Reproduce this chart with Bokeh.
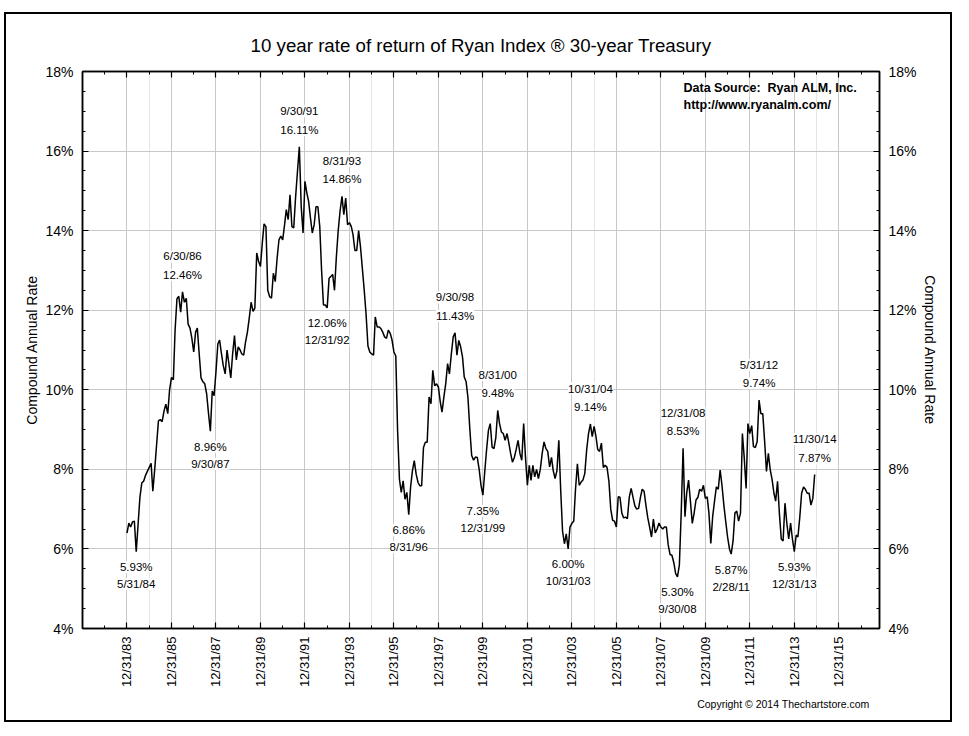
import datetime as dt
import math
from bokeh.plotting import figure
from bokeh.models import (Range1d, LinearAxis, FixedTicker, PrintfTickFormatter,
                          ColumnDataSource, LabelSet, Label, Title, Grid)
from bokeh.core.properties import value
from bokeh.embed import file_html
from bokeh.resources import INLINE

FONT = "Liberation Sans"

# ---- data: monthly 10-year compound annual rate (%), 12/31/83 .. 11/30/14 ----
series_start = "12/31/83"
rates = [
    6.40, 6.65, 6.55, 6.68, 6.70, 5.93, 6.60, 7.30, 7.66, 7.70,
    7.85, 7.95, 8.05, 8.15, 7.45, 8.00, 8.60, 9.22, 9.25, 9.20,
    9.47, 9.64, 9.40, 10.00, 10.31, 10.25, 11.49, 12.29, 12.35, 11.95,
    12.46, 12.20, 12.30, 11.65, 11.55, 11.30, 10.95, 11.45, 11.55, 10.90,
    10.30, 10.20, 10.15, 9.90, 9.40, 8.96, 9.97, 9.85, 10.45, 11.15,
    11.25, 10.90, 10.60, 10.40, 11.00, 10.65, 10.30, 10.90, 11.36, 10.75,
    11.08, 11.00, 10.90, 10.87, 11.20, 11.45, 11.80, 12.20, 11.97, 12.05,
    13.44, 13.23, 13.10, 13.70, 14.17, 14.10, 12.50, 12.34, 12.30, 12.93,
    12.72, 13.30, 13.77, 13.86, 13.77, 14.15, 14.53, 14.28, 14.90, 14.10,
    14.07, 14.85, 15.50, 16.11, 14.60, 13.94, 15.24, 14.95, 14.74, 14.32,
    13.94, 14.15, 14.60, 14.60, 14.10, 13.00, 12.13, 12.13, 12.06, 12.80,
    12.85, 12.90, 12.50, 13.35, 14.00, 14.50, 14.86, 14.40, 14.82, 14.15,
    14.20, 14.10, 13.90, 13.50, 13.50, 14.00, 13.60, 13.05, 12.50, 11.90,
    11.10, 10.95, 10.90, 10.87, 11.83, 11.58, 11.58, 11.54, 11.45, 11.33,
    11.29, 11.50, 11.42, 11.25, 10.95, 10.85, 9.00, 7.75, 7.42, 7.71,
    7.25, 7.42, 6.86, 7.55, 7.97, 8.22, 7.88, 7.67, 7.59, 7.59,
    8.55, 8.68, 8.68, 9.82, 9.65, 10.49, 10.10, 10.15, 10.07, 9.69,
    9.44, 9.82, 10.15, 10.66, 10.40, 10.90, 11.33, 11.43, 10.87, 11.24,
    11.08, 10.82, 10.32, 10.20, 9.80, 9.00, 8.35, 8.23, 8.31, 8.30,
    8.00, 7.60, 7.35, 7.95, 8.48, 8.98, 9.15, 8.56, 8.52, 8.80,
    9.48, 9.15, 8.94, 8.90, 8.73, 8.90, 8.68, 8.40, 8.18, 8.30,
    8.50, 8.73, 8.40, 8.23, 9.15, 8.30, 7.60, 8.10, 7.72, 8.10,
    7.81, 8.00, 7.77, 8.00, 8.40, 8.69, 8.52, 8.45, 8.06, 8.30,
    7.97, 7.77, 7.97, 8.73, 7.50, 6.45, 6.13, 6.38, 6.00, 6.55,
    6.64, 6.70, 7.50, 8.14, 7.60, 7.68, 7.73, 7.90, 8.50, 8.90,
    9.14, 8.82, 9.08, 8.82, 8.50, 8.45, 8.66, 8.05, 8.10, 8.05,
    7.70, 7.00, 6.72, 6.70, 6.55, 7.31, 7.30, 6.90, 6.78, 6.80,
    6.76, 7.30, 7.52, 7.30, 7.08, 7.00, 7.02, 7.30, 7.50, 7.45,
    7.10, 6.78, 6.55, 6.30, 6.75, 6.40, 6.50, 6.65, 6.55, 6.50,
    6.55, 6.55, 6.10, 5.86, 5.84, 5.66, 5.38, 5.30, 5.60, 6.90,
    8.53, 6.81, 7.40, 7.73, 7.20, 6.64, 6.90, 7.23, 7.30, 7.50,
    7.45, 7.60, 7.27, 7.31, 6.90, 6.14, 6.81, 7.20, 7.56, 7.50,
    7.98, 7.60, 7.10, 6.70, 6.30, 6.00, 5.87, 6.20, 6.90, 6.95,
    6.70, 6.90, 8.90, 8.30, 7.52, 9.15, 8.90, 9.10, 8.57, 8.55,
    8.70, 9.74, 9.40, 9.40, 8.70, 7.95, 8.40, 8.00, 7.75, 7.40,
    7.20, 7.70, 6.90, 6.25, 6.20, 7.15, 6.64, 6.25, 6.65, 6.25,
    5.93, 6.35, 6.30, 6.80, 7.40, 7.56, 7.50, 7.40, 7.40, 7.10,
    7.27, 7.87,
]

x_tick_labels = ["12/31/83", "12/31/85", "12/31/87", "12/31/89", "12/31/91",
                 "12/31/93", "12/31/95", "12/31/97", "12/31/99", "12/31/01",
                 "12/31/03", "12/31/05", "12/31/07", "12/31/09", "12/31/11",
                 "12/31/13", "12/31/15"]
y_ticks = [4, 6, 8, 10, 12, 14, 16, 18]

ann_dates = ["5/31/84", "6/30/86", "9/30/87", "9/30/91", "12/31/92", "8/31/93",
             "8/31/96", "9/30/98", "12/31/99", "8/31/00", "10/31/03", "10/31/04",
             "9/30/08", "12/31/08", "2/28/11", "5/31/12", "12/31/13", "11/30/14"]
ann_values = [5.93, 12.46, 8.96, 16.11, 12.06, 14.86, 6.86, 11.43, 7.35, 9.48,
              6.00, 9.14, 5.30, 8.53, 5.87, 9.74, 5.93, 7.87]
ann_side = ["below", "above", "below", "above", "below", "above", "below", "above",
            "below", "above", "below", "above", "below", "above", "below", "above",
            "below", "above"]

X_MIN, X_MAX = 1982.0, 2017.83


# ---- helpers ----
def parse(s):
    m, d, y = map(int, s.split("/"))
    y += 1900 if y >= 50 else 2000
    return dt.date(y, m, d)


def dec_year(d):
    ndays = (dt.date(d.year + 1, 1, 1) - dt.date(d.year, 1, 1)).days
    return d.year + d.timetuple().tm_yday / ndays


def month_end(y, m):
    if m == 12:
        return dt.date(y, 12, 31)
    return dt.date(y, m + 1, 1) - dt.timedelta(days=1)


d0 = parse(series_start)
yy, mm = d0.year, d0.month
xs = []
for _ in rates:
    xs.append(dec_year(month_end(yy, mm)))
    mm += 1
    if mm > 12:
        mm = 1
        yy += 1

x_ticks = [round(dec_year(parse(s)), 6) for s in x_tick_labels]

# ---- figure ----
p = figure(frame_width=797, frame_height=557,
           x_range=Range1d(X_MIN, X_MAX), y_range=Range1d(4, 18),
           output_backend="svg", toolbar_location=None,
           x_axis_location=None, y_axis_location=None,
           min_border_left=76, min_border_right=71,
           min_border_top=57, min_border_bottom=92,
           background_fill_color="white", border_fill_color="white")
p.outline_line_color = "black"
p.outline_line_width = 1.5
p.styles = {"border": "2px solid black", "margin-left": "4px", "margin-top": "12px"}

p.title.text = "10 year rate of return of Ryan Index \u00ae 30-year Treasury"
p.title.align = "center"
p.title.text_font = FONT
p.title.text_font_size = "18.7px"
p.title.text_font_style = "normal"
p.title.text_color = "black"
p.title.standoff = 32

xticker = FixedTicker(ticks=x_ticks, minor_ticks=list(range(1982, 2018)))
yticker = FixedTicker(ticks=y_ticks, minor_ticks=[4 + 0.5 * i for i in range(29)])


def style_axis(ax):
    ax.axis_line_color = "black"
    ax.axis_line_width = 1.5
    ax.major_tick_in = 6
    ax.major_tick_out = 0
    ax.minor_tick_in = 3
    ax.minor_tick_out = 0
    ax.major_tick_line_width = 1.2
    ax.minor_tick_line_width = 1
    ax.major_label_text_font = FONT
    ax.major_label_text_font_size = "13px"
    ax.major_label_text_color = "black"
    ax.axis_label_text_font = FONT
    ax.axis_label_text_font_size = "14px"
    ax.axis_label_text_font_style = "normal"
    ax.axis_label_text_color = "black"


overrides = {float(t): lab for t, lab in zip(x_ticks, x_tick_labels)}
xb = LinearAxis(ticker=xticker, major_label_overrides=overrides,
                major_label_orientation=math.pi / 2)
style_axis(xb)
xb.major_label_standoff = 8
p.add_layout(xb, "below")

xt = LinearAxis(ticker=xticker, major_label_overrides={float(t): "" for t in x_ticks})
style_axis(xt)
p.add_layout(xt, "above")

for side, lab_standoff in (("left", 2), ("right", 2)):
    ya = LinearAxis(ticker=yticker, formatter=PrintfTickFormatter(format="%d%%"),
                    axis_label="Compound Annual Rate")
    style_axis(ya)
    ya.major_label_text_font_size = "14px"
    ya.major_label_standoff = 9
    ya.axis_label_standoff = lab_standoff
    p.add_layout(ya, side)

p.add_layout(Grid(dimension=0, ticker=xticker, grid_line_color="#c8c8c8", grid_line_width=1))
p.add_layout(Grid(dimension=1, ticker=yticker, grid_line_color="#c8c8c8", grid_line_width=1))

p.line(xs, rates, line_color="black", line_width=1.5)

# ---- annotations ----
ax_ = [dec_year(parse(s)) for s in ann_dates]
src = ColumnDataSource(dict(
    x=ax_, y=ann_values, date=ann_dates,
    val=["%.2f%%" % v for v in ann_values],
    od=[35.5 if s == "above" else -32.5 for s in ann_side],
    ov=[17 if s == "above" else -15.5 for s in ann_side],
))
for txt, off in (("date", "od"), ("val", "ov")):
    p.add_layout(LabelSet(x="x", y="y", text=txt, y_offset=off, source=src,
                          text_align="center", text_baseline="middle",
                          text_font=value(FONT), text_font_size="11.5px",
                          text_color="black", background_fill_color="white"))

p.add_layout(Label(x=2009.02, y=17.575, text="Data Source:\u00a0 Ryan ALM, Inc.",
                   text_font=FONT, text_font_size="12.5px", text_font_style="bold",
                   text_baseline="middle", text_align="left", text_color="black"))
p.add_layout(Label(x=2009.02, y=17.15, text="http://www.ryanalm.com/",
                   text_font=FONT, text_font_size="12.5px", text_font_style="bold",
                   text_baseline="middle", text_align="left", text_color="black"))

cr = Title(text="Copyright \u00a9 2014 Thechartstore.com", align="right",
           text_font=FONT, text_font_size="10.5px", text_font_style="normal",
           text_color="black", offset=10)
p.add_layout(cr, "below")

open("out.html", "w").write(file_html(p, INLINE))
